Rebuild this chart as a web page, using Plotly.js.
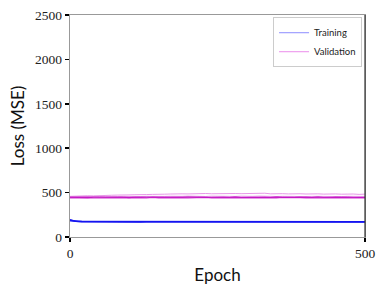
<!DOCTYPE html>
<html>
<head>
<meta charset="utf-8">
<script src="https://cdn.plot.ly/plotly-3.0.1.min.js"></script>
<style>html,body{margin:0;padding:0;background:#fff;}#chart{width:386px;height:290px;}</style>
</head>
<body>
<div id="chart"></div>
<script>
// Epochs sampled every 10
const epochs = [0,10,20,30,40,50,60,70,80,90,100,110,120,130,140,150,160,170,180,190,200,210,220,230,240,250,260,270,280,290,300,310,320,330,340,350,360,370,380,390,400,410,420,430,440,450,460,470,480,490,500];

const train1 = [195,176,174,173,173,172,172,172,172,171,172,172,171,172,172,171,171,172,172,171,171,172,171,171,171,172,171,171,171,171,172,171,171,171,171,171,172,171,171,171,171,171,171,172,171,171,171,171,171,171,171];
const train2 = [188,178,176,175,175,174,174,174,173,174,174,173,173,174,173,173,173,174,173,173,173,173,174,173,173,173,173,173,174,173,173,173,173,173,173,173,173,174,173,173,173,173,173,173,173,173,173,174,173,173,173];
const train3 = [182,172,170,170,169,169,169,169,169,168,169,169,168,169,169,168,168,169,168,168,168,169,168,168,168,168,168,169,168,168,168,168,168,168,169,168,168,168,168,168,168,168,168,168,169,168,168,168,168,168,168];

const val1 = [448,446,450,445,449,447,451,446,448,450,445,449,447,452,446,448,450,447,445,449,451,446,448,447,450,445,449,447,451,446,448,450,446,449,447,452,446,448,450,445,449,447,451,446,448,449,447,450,446,448,447];
const val2 = [442,444,440,445,441,443,446,440,444,442,445,441,443,440,446,442,444,441,445,443,440,444,442,446,441,443,445,440,444,442,441,445,443,440,444,442,446,441,443,445,440,444,442,443,441,445,442,444,440,443,442];
const val3 = [458,462,460,465,463,468,466,470,472,469,474,476,473,478,480,477,482,484,481,486,485,488,483,490,487,489,492,486,490,488,491,487,489,493,486,490,488,485,489,487,484,488,486,483,487,485,482,486,484,480,483];
const val4 = [453,455,452,456,454,457,453,458,455,457,454,459,456,458,455,460,457,459,456,458,461,457,459,456,460,458,455,459,457,460,456,458,461,457,459,456,458,460,457,455,459,457,458,456,460,457,455,458,456,459,457];

const yTicks = [0,500,1000,1500,2000,2500];
const xTicks = [0,500];

const valColor = 'rgb(195,20,195)';
const valLight = 'rgb(228,140,228)';
const trainColor = 'rgb(20,20,240)';

function tr(y, color, width, opacity, name, group) {
  return {x: epochs, y: y, type: 'scatter', mode: 'lines', name: name, showlegend: false,
    legendgroup: group, line: {color: color, width: width}, opacity: opacity, hoverinfo: 'skip'};
}

const data = [
  tr(val3, valLight, 1, 0.9, 'Validation', 'v'),
  tr(val4, valLight, 1, 0.8, 'Validation', 'v'),
  tr(val2, valColor, 1.3, 0.85, 'Validation', 'v'),
  tr(val1, valColor, 1.3, 0.85, 'Validation', 'v'),
  tr(train3, trainColor, 1.2, 0.9, 'Training', 't'),
  tr(train2, trainColor, 1.2, 0.9, 'Training', 't'),
  tr(train1, trainColor, 1.4, 1, 'Training', 't'),
  {x: [null], y: [null], type: 'scatter', mode: 'lines', name: 'Training', showlegend: true,
    line: {color: 'rgb(140,140,255)', width: 1}},
  {x: [null], y: [null], type: 'scatter', mode: 'lines', name: 'Validation', showlegend: true,
    line: {color: 'rgb(235,140,235)', width: 1}}
];

const serif = 'Liberation Serif';
const sans = 'Lato';

const layout = {
  width: 386, height: 290,
  margin: {l: 70, r: 21, t: 15, b: 53},
  paper_bgcolor: '#fff', plot_bgcolor: '#fff',
  font: {family: serif, size: 13, color: '#222'},
  showlegend: true,
  legend: {x: 0.99, y: 0.99, xanchor: 'right', yanchor: 'top', bgcolor: '#fff',
    bordercolor: '#ccc', borderwidth: 1, font: {family: sans, size: 9.5, color: '#222'},
    itemwidth: 30, tracegroupgap: 0},
  xaxis: {range: [0, 500], tickvals: xTicks, ticktext: xTicks.map(String),
    showgrid: false, zeroline: false, showline: true, linecolor: '#999', linewidth: 1.2,
    mirror: true, ticks: 'outside', ticklen: 4, tickwidth: 1.5, tickcolor: '#000',
    tickfont: {family: serif, size: 13.5, color: '#222'},
    title: {text: 'Epoch', font: {family: sans, size: 17, color: '#111'}, standoff: 8}},
  yaxis: {range: [0, 2500], tickvals: yTicks, ticktext: yTicks.map(String),
    showgrid: false, zeroline: false, showline: true, linecolor: '#999', linewidth: 1.2,
    mirror: true, ticks: 'outside', ticklen: 4, tickwidth: 1.5, tickcolor: '#000',
    tickfont: {family: serif, size: 13.5, color: '#222'},
    title: {text: 'Loss (MSE)', font: {family: sans, size: 17, color: '#111'}, standoff: 6}},
  shapes: [
    {type: 'line', xref: 'paper', yref: 'paper', x0: 1, x1: 1, y0: 0, y1: 1,
      line: {color: '#333', width: 1.2}}
  ]
};

Plotly.newPlot('chart', data, layout, {staticPlot: true, displayModeBar: false});
</script>
</body>
</html>
